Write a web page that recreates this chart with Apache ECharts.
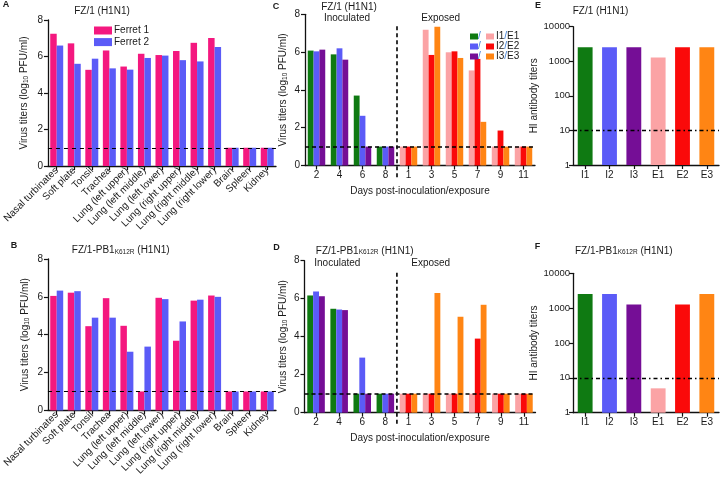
<!DOCTYPE html>
<html><head><meta charset="utf-8">
<script src="https://cdn.jsdelivr.net/npm/echarts@6/dist/echarts.min.js"></script>
<style>html,body{margin:0;padding:0;background:#fff}#c{width:728px;height:478px}</style>
</head><body><div id="c"></div>
<script>
// ---------- data ----------
const tissues = ['Nasal turbinates','Soft plate','Tonsil','Trachea','Lung (left upper)','Lung (left middle)','Lung (left lower)','Lung (right upper)','Lung (right middle)','Lung (right lower)','Brain','Spleen','Kidney'];
const fzFerret1 = [7.25,6.72,5.27,6.33,5.45,6.15,6.08,6.3,6.75,7.02,1,1,1];
const fzFerret2 = [6.6,5.6,5.88,5.35,5.28,5.92,6.05,5.8,5.73,6.52,1,1,1];
const mutFerret1 = [6.05,6.22,4.45,5.93,4.47,1,5.95,3.68,5.8,6.07,1,1,1];
const mutFerret2 = [6.33,6.3,4.9,4.9,3.1,3.37,5.88,4.7,5.85,6.0,1,1,1];

const daysInoc = ['2','4','6','8'];
const daysExp = ['1','3','5','7','9','11'];
const fzI1 = [6.08,5.88,3.7,1];
const fzI2 = [6.04,6.2,2.63,1];
const fzI3 = [6.13,5.6,1,1];
const fzE1 = [1,7.18,5.99,5.03,1,1];
const fzE2 = [1,5.85,6.04,5.64,1.85,1];
const fzE3 = [1,7.34,5.69,2.31,1,1];
const mutI1 = [6.17,5.47,1,1];
const mutI2 = [6.38,5.43,2.9,1];
const mutI3 = [6.13,5.4,1,1];
const mutE1 = [1,1,1,1,1,1];
const mutE2 = [1,1,1,3.9,1,1];
const mutE3 = [1,6.3,5.05,5.68,1,1];

const hiLabels = ['I1','I2','I3','E1','E2','E3'];
const fzHI = [2560,2560,2560,1280,2560,2560];
const mutHI = [2560,2560,1280,5,1280,2560];

const detectionLimitTiter = 1;
const detectionLimitHI = 10;

// ---------- styles ----------
const FONT = '"Liberation Sans", Arial, sans-serif';
const TXT = '#1a1a1a';
const PINK = '#F4187F', BLUE = '#5B5BF7', GREEN = '#0F7A12', PURPLE = '#750E96',
      LPINK = '#FBA3A5', RED = '#FA0A0A', ORANGE = '#FF8514', SLASH = '#3F7FD6';
const hiColors = [GREEN, BLUE, PURPLE, LPINK, RED, ORANGE];

const days = daysInoc.concat(daysExp);
const padI = a => a.concat(daysExp.map(() => '-'));
const padE = a => daysInoc.map(() => '-').concat(a);

const grids = [
  {left:47, top:20, width:229, height:146},
  {left:47, top:259, width:229, height:153.7},
  {left:305, top:14.3, width:230, height:151.2},
  {left:304.5, top:260.7, width:231, height:152},
  {left:573, top:26.7, width:146, height:138.3},
  {left:573, top:273.3, width:146, height:139.4}
];

const axLine = {show:true, lineStyle:{color:'#111', width:1.3}};
const axTick = {show:true, length:4, lineStyle:{color:'#111', width:1.2}};
const lbl = (o) => Object.assign({color:TXT, fontFamily:FONT, fontSize:10}, o||{});

const virusName = '{a|Virus titers (log}{s|10}{a| PFU/ml)}';
const nameRich = {a:{fontFamily:FONT, fontSize:10, color:TXT, lineHeight:12},
                  s:{fontFamily:FONT, fontSize:6.5, color:TXT, lineHeight:7, verticalAlign:'bottom'}};

function valueY(gi, gap) {
  return {type:'value', gridIndex:gi, min:0, max:8, interval:2,
    axisLine:axLine, axisTick:axTick, splitLine:{show:false},
    axisLabel:lbl({margin:5}),
    name:virusName, nameLocation:'middle', nameGap:gap, nameRotate:90,
    nameTextStyle:{rich:nameRich}};
}
function logY(gi) {
  return {type:'log', logBase:10, gridIndex:gi, min:1, max:10000,
    axisLine:axLine, axisTick:axTick, splitLine:{show:false},
    axisLabel:lbl({margin:3, fontSize:9.5, formatter:(v) => String(Math.round(v))}),
    name:'HI antibody titers', nameLocation:'middle', nameGap:25, nameRotate:90,
    nameTextStyle:{fontFamily:FONT, fontSize:10, color:TXT}};
}
function catX(gi, data, extra) {
  return Object.assign({type:'category', gridIndex:gi, data:data,
    axisLine:axLine, axisTick:Object.assign({alignWithLabel:true, interval:0}, axTick),
    axisLabel:lbl({interval:0, margin:5})}, extra||{});
}

const xAxes = [
  catX(0, tissues, {axisLabel:lbl({interval:0, rotate:45, margin:3})}),
  catX(1, tissues, {axisLabel:lbl({interval:0, rotate:45, margin:3})}),
  catX(2, days, {name:'Days post-inoculation/exposure', nameLocation:'middle', nameGap:21,
     nameTextStyle:{fontFamily:FONT, fontSize:10, color:TXT}}),
  catX(3, days, {name:'Days post-inoculation/exposure', nameLocation:'middle', nameGap:21,
     nameTextStyle:{fontFamily:FONT, fontSize:10, color:TXT}}),
  catX(4, hiLabels),
  catX(5, hiLabels)
];
const yAxes = [valueY(0,18), valueY(1,17), valueY(2,16), valueY(3,15.5), logY(4), logY(5)];

function thresh(ai, val, dash, w) {
  return {type:'line', xAxisIndex:ai, yAxisIndex:ai, data:[], z:1, silent:true,
    markLine:{silent:true, symbol:'none', label:{show:false}, animation:false,
      lineStyle:{type:dash, dashOffset:0, color:'#000', width:w}, data:[{yAxis:val}]}};
}
function bar(ai, name, data, color, stack, gap) {
  const s = {type:'bar', name:name, xAxisIndex:ai, yAxisIndex:ai, data:data, z:3,
    itemStyle:{color:color}, barGap:'0%', barCategoryGap:gap};
  if (stack) s.stack = stack;
  return s;
}

const series = [
  thresh(0, detectionLimitTiter, [4,4], 1.2),
  bar(0, 'Ferret 1', fzFerret1, PINK, null, '26%'),
  bar(0, 'Ferret 2', fzFerret2, BLUE, null, '26%'),
  thresh(1, detectionLimitTiter, [4,4], 1.2),
  bar(1, 'Ferret 1 ', mutFerret1, PINK, null, '26%'),
  bar(1, 'Ferret 2 ', mutFerret2, BLUE, null, '26%'),
  thresh(2, detectionLimitTiter, [4,3], 1.5),
  bar(2, 'I1', padI(fzI1), GREEN, 'c1', '24%'),
  bar(2, 'E1', padE(fzE1), LPINK, 'c1', '24%'),
  bar(2, 'I2', padI(fzI2), BLUE, 'c2', '24%'),
  bar(2, 'E2', padE(fzE2), RED, 'c2', '24%'),
  bar(2, 'I3', padI(fzI3), PURPLE, 'c3', '24%'),
  bar(2, 'E3', padE(fzE3), ORANGE, 'c3', '24%'),
  thresh(3, detectionLimitTiter, [4,3], 1.5),
  bar(3, 'D-I1', padI(mutI1), GREEN, 'd1', '24%'),
  bar(3, 'D-E1', padE(mutE1), LPINK, 'd1', '24%'),
  bar(3, 'D-I2', padI(mutI2), BLUE, 'd2', '24%'),
  bar(3, 'D-E2', padE(mutE2), RED, 'd2', '24%'),
  bar(3, 'D-I3', padI(mutI3), PURPLE, 'd3', '24%'),
  bar(3, 'D-E3', padE(mutE3), ORANGE, 'd3', '24%'),
  thresh(4, detectionLimitHI, [4,3,1.5,3], 1.3),
  {type:'bar', name:'HI-FZ', xAxisIndex:4, yAxisIndex:4, z:3, barCategoryGap:'39%',
    data: fzHI.map((v,i) => ({value:v, itemStyle:{color:hiColors[i]}}))},
  thresh(5, detectionLimitHI, [4,3,1.5,3], 1.3),
  {type:'bar', name:'HI-MUT', xAxisIndex:5, yAxisIndex:5, z:3, barCategoryGap:'39%',
    data: mutHI.map((v,i) => ({value:v, itemStyle:{color:hiColors[i]}}))}
];

const legends = [
  {data:['Ferret 1','Ferret 2'], orient:'vertical', left:89, top:20.5, itemWidth:18, itemHeight:8,
   itemGap:1.6, icon:'rect', selectedMode:false,
   textStyle:{fontFamily:FONT, fontSize:10, color:TXT, lineHeight:10, padding:[0,0,0,-3]}},
  {data:['I1','I2','I3'], orient:'vertical', left:465, top:26.5, itemWidth:8, itemHeight:6,
   itemGap:0, icon:'rect', selectedMode:false, formatter:() => '/',
   textStyle:{fontFamily:FONT, fontSize:10, color:SLASH, lineHeight:9.7, padding:[0,0,0,-5]}},
  {data:['E1','E2','E3'], orient:'vertical', left:481, top:26.5, itemWidth:8, itemHeight:6,
   itemGap:0, icon:'rect', selectedMode:false,
   formatter:(n) => '{a|I' + n.slice(1) + '}{s|/}{a|' + n + '}',
   textStyle:{fontFamily:FONT, fontSize:10, color:TXT, lineHeight:9.7, padding:[0,0,0,-3],
     rich:{a:{fontFamily:FONT, fontSize:10, color:TXT}, s:{fontFamily:FONT, fontSize:10, color:SLASH}}}}
];

const chart = echarts.init(document.getElementById('c'));
chart.setOption({
  animation:false,
  backgroundColor:'#fff',
  textStyle:{fontFamily:FONT},
  grid:grids, xAxis:xAxes, yAxis:yAxes, series:series, legend:legends
});

// ---------- annotations ----------
const titleRich = {t:{fontFamily:FONT, fontSize:10, fill:TXT}, s:{fontFamily:FONT, fontSize:6.5, fill:TXT, verticalAlign:'bottom', lineHeight:7}};
function txt(x, y, text, opt) {
  return {type:'text', x:x, y:y, silent:true, style:Object.assign({text:text, fill:TXT,
    font:'10px ' + FONT, textAlign:'center', textVerticalAlign:'middle'}, opt||{})};
}
function letter(x, y, t) { return txt(x, y, t, {font:'bold 9px ' + FONT}); }
const mutTitle = '{t|FZ/1-PB1}{s|K612R}{t| (H1N1)}';
function divider(ai, gi) {
  const a = chart.convertToPixel({xAxisIndex:ai}, daysInoc[daysInoc.length-1]);
  const b = chart.convertToPixel({xAxisIndex:ai}, daysExp[0]);
  const x = (a + b) / 2, g = grids[gi];
  return {type:'line', silent:true, z:10,
    shape:{x1:x, y1:g.top + 12, x2:x, y2:g.top + g.height + 14},
    style:{stroke:'#111', lineWidth:1.7, lineDash:[4,3]}};
}
const elements = [
  letter(6, 5, 'A'), letter(14, 246, 'B'), letter(276, 6.5, 'C'),
  letter(276.5, 248, 'D'), letter(538, 5.5, 'E'), letter(537.5, 247, 'F'),
  txt(102, 11.7, 'FZ/1 (H1N1)'),
  txt(120.7, 250.7, mutTitle, {rich:titleRich}),
  txt(349, 7.5, 'FZ/1 (H1N1)'),
  txt(347, 18.5, 'Inoculated'),
  txt(440.7, 18.5, 'Exposed'),
  txt(364.7, 251, mutTitle, {rich:titleRich}),
  txt(337.3, 263.5, 'Inoculated'),
  txt(430.7, 263.5, 'Exposed'),
  txt(600.5, 11, 'FZ/1 (H1N1)'),
  txt(623.8, 251, mutTitle, {rich:titleRich}),
  divider(2, 2), divider(3, 3)
];
chart.setOption({graphic:{elements:elements}});
</script></body></html>
